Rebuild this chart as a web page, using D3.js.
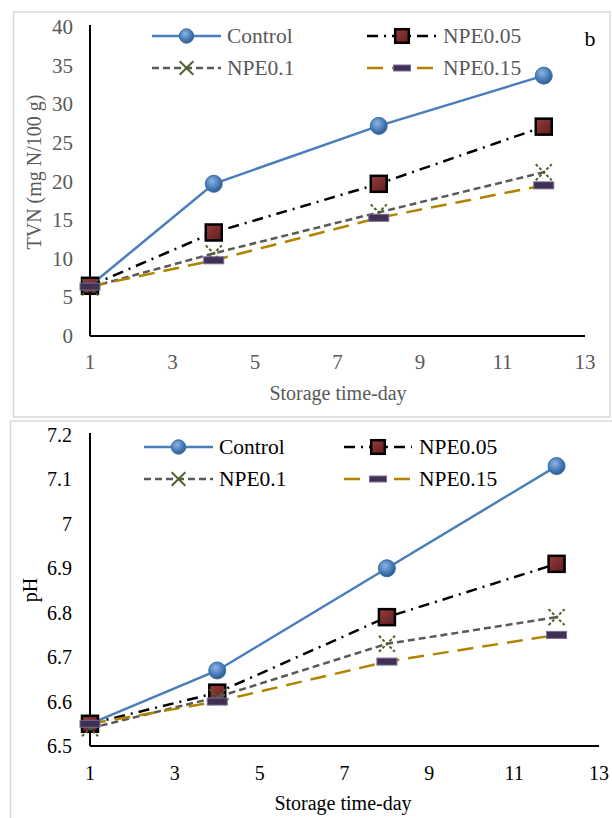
<!DOCTYPE html>
<html>
<head>
<meta charset="utf-8">
<script src="https://cdn.jsdelivr.net/npm/d3@7"></script>
<style>
  body { margin: 0; background: #fff; }
  svg { display: block; }
</style>
</head>
<body>
<script>
/* global d3 */
(function () {
  'use strict'

  // data
  var days = [1, 4, 8, 12]
  var seriesNames = ['Control', 'NPE0.05', 'NPE0.1', 'NPE0.15']

  var tvnControl = [6.5, 19.7, 27.2, 33.7]
  var tvnNPE005 = [6.5, 13.4, 19.7, 27.1]
  var tvnNPE01 = [6.3, 10.7, 16.0, 21.2]
  var tvnNPE015 = [6.4, 9.8, 15.3, 19.5]

  var phControl = [6.55, 6.67, 6.90, 7.13]
  var phNPE005 = [6.55, 6.62, 6.79, 6.91]
  var phNPE01 = [6.54, 6.61, 6.73, 6.79]
  var phNPE015 = [6.55, 6.60, 6.69, 6.75]

  var dayTicks = [1, 3, 5, 7, 9, 11, 13]
  var tvnTicks = [0, 5, 10, 15, 20, 25, 30, 35, 40]
  var phTicks = [6.5, 6.6, 6.7, 6.8, 6.9, 7.0, 7.1, 7.2]

  var W = 612
  var H = 818
  var FONT = '"Liberation Serif", "Times New Roman", serif'

  var svg = d3.select('body').append('svg')
    .attr('width', W)
    .attr('height', H)
    .attr('font-family', FONT)

  var defs = svg.append('defs')
  var gBlue = defs.append('radialGradient').attr('id', 'gBlue')
    .attr('cx', '40%').attr('cy', '35%').attr('r', '65%')
  gBlue.append('stop').attr('offset', '0%').attr('stop-color', '#8db4e2')
  gBlue.append('stop').attr('offset', '60%').attr('stop-color', '#4a7ebb')
  gBlue.append('stop').attr('offset', '100%').attr('stop-color', '#2c5a8c')
  var gRed = defs.append('linearGradient').attr('id', 'gRed')
    .attr('x1', '0%').attr('y1', '0%').attr('x2', '100%').attr('y2', '100%')
  gRed.append('stop').attr('offset', '0%').attr('stop-color', '#9a3c3c')
  gRed.append('stop').attr('offset', '100%').attr('stop-color', '#5c1e1e')

  var styles = [
    { color: '#4a7ebb', dash: null, marker: 'circle' },
    { color: '#000000', dash: '11,6,2,6', marker: 'square' },
    { color: '#595959', dash: '7,4', marker: 'cross' },
    { color: '#b08400', dash: '16,9', marker: 'bar' }
  ]

  function drawMarker (g, type, x, y, s) {
    if (type === 'circle') {
      g.append('circle').attr('cx', x).attr('cy', y).attr('r', 8.5 * s)
        .attr('fill', 'url(#gBlue)').attr('stroke', '#3a6ea5').attr('stroke-width', 1)
    } else if (type === 'square') {
      var a = 16 * s
      g.append('rect').attr('x', x - a / 2).attr('y', y - a / 2)
        .attr('width', a).attr('height', a)
        .attr('fill', 'url(#gRed)').attr('stroke', '#000').attr('stroke-width', 2.5)
    } else if (type === 'cross') {
      var c = 8 * s
      g.append('path')
        .attr('d', 'M' + (x - c) + ',' + (y - c) + 'L' + (x + c) + ',' + (y + c) +
          'M' + (x - c) + ',' + (y + c) + 'L' + (x + c) + ',' + (y - c))
        .attr('stroke', '#4f6228').attr('stroke-width', 2)
        .attr('stroke-dasharray', s < 1 ? null : '3,2').attr('fill', 'none')
    } else {
      var bw = 20 * s
      var bh = 7 * s
      g.append('rect').attr('x', x - bw / 2).attr('y', y - bh / 2)
        .attr('width', bw).attr('height', bh)
        .attr('fill', '#403152').attr('stroke', '#7a6a9a').attr('stroke-width', 1)
    }
  }

  function drawPanel (p) {
    var g = svg.append('g')

    // panel frame
    g.append('rect').attr('x', p.box[0]).attr('y', p.box[1])
      .attr('width', p.box[2]).attr('height', p.box[3])
      .attr('fill', '#fff').attr('stroke', '#d9d9d9').attr('stroke-width', 1.5)

    var x = d3.scaleLinear().domain([1, 13]).range(p.xRange)
    var y = d3.scaleLinear().domain(p.yDomain).range(p.yRange)

    // axis lines
    g.append('line').attr('x1', x(1)).attr('x2', x(1))
      .attr('y1', y(p.yDomain[1]) - 2).attr('y2', y(p.yDomain[0]))
      .attr('stroke', '#000').attr('stroke-width', 2)
    g.append('line').attr('x1', x(1)).attr('x2', x(13))
      .attr('y1', y(p.yDomain[0])).attr('y2', y(p.yDomain[0]))
      .attr('stroke', '#000').attr('stroke-width', 2)

    // tick labels
    g.selectAll('.yl').data(p.yTicks).enter().append('text')
      .attr('x', p.yLabelX).attr('y', function (d) { return y(d) })
      .attr('text-anchor', 'end').attr('dominant-baseline', 'central')
      .attr('font-size', p.tickSize).attr('fill', p.textColor)
      .text(function (d) { return d3.format('~g')(d) })
    g.selectAll('.xl').data(dayTicks).enter().append('text')
      .attr('x', function (d) { return x(d) }).attr('y', p.xLabelY)
      .attr('text-anchor', 'middle').attr('dominant-baseline', 'central')
      .attr('font-size', p.tickSize).attr('fill', p.textColor)
      .text(function (d) { return d })

    // axis titles
    g.append('text').attr('x', p.xTitle[0]).attr('y', p.xTitle[1])
      .attr('text-anchor', 'middle').attr('dominant-baseline', 'central')
      .attr('font-size', 20).attr('fill', p.textColor).text('Storage time-day')
    g.append('text')
      .attr('transform', 'translate(' + p.yTitle[0] + ',' + p.yTitle[1] + ') rotate(-90)')
      .attr('text-anchor', 'middle').attr('dominant-baseline', 'central')
      .attr('font-size', 20).attr('fill', p.textColor).text(p.yTitleText)

    // series
    var line = d3.line()
      .x(function (d) { return x(d[0]) })
      .y(function (d) { return y(d[1]) })
    p.series.forEach(function (vals, i) {
      var st = styles[i]
      var pts = days.map(function (d, j) { return [d, vals[j]] })
      var sg = g.append('g')
      sg.append('path').attr('d', line(pts))
        .attr('fill', 'none').attr('stroke', st.color).attr('stroke-width', 2.5)
        .attr('stroke-dasharray', st.dash)
      pts.forEach(function (pt) { drawMarker(sg, st.marker, x(pt[0]), y(pt[1]), 1) })
    })

    // legend
    seriesNames.forEach(function (name, i) {
      var st = styles[i]
      var col = p.legend.cols[i % 2]
      var ly = p.legend.rows[Math.floor(i / 2)]
      var lg = g.append('g')
      lg.append('line').attr('x1', col[0]).attr('x2', col[1]).attr('y1', ly).attr('y2', ly)
        .attr('stroke', st.color).attr('stroke-width', 2.5)
        .attr('stroke-dasharray', st.dash)
      drawMarker(lg, st.marker, (col[0] + col[1]) / 2, ly, 0.85)
      lg.append('text').attr('x', col[2]).attr('y', ly)
        .attr('dominant-baseline', 'central').attr('font-size', 21.5)
        .attr('fill', p.textColor).text(name)
    })

    if (p.tag) {
      g.append('text').attr('x', p.tag[0]).attr('y', p.tag[1])
        .attr('text-anchor', 'middle').attr('dominant-baseline', 'central')
        .attr('font-size', 22).attr('fill', '#000').text(p.tag[2])
    }
  }

  drawPanel({
    box: [13.5, 12, 596.5, 405],
    xRange: [90, 585],
    yDomain: [0, 40],
    yRange: [336, 27],
    yTicks: tvnTicks,
    yLabelX: 73,
    xLabelY: 362,
    tickSize: 21,
    textColor: '#595959',
    xTitle: [338, 393],
    yTitle: [34, 172],
    yTitleText: 'TVN (mg N/100 g)',
    series: [tvnControl, tvnNPE005, tvnNPE01, tvnNPE015],
    legend: { rows: [36, 68], cols: [[152, 221, 227], [367, 437, 443]] },
    tag: [590, 38, 'b']
  })

  drawPanel({
    box: [10.5, 421, 620, 420],
    xRange: [90, 599],
    yDomain: [6.5, 7.2],
    yRange: [746, 435],
    yTicks: phTicks,
    yLabelX: 72,
    xLabelY: 773,
    tickSize: 20,
    textColor: '#000',
    xTitle: [343, 803],
    yTitle: [30, 590],
    yTitleText: 'pH',
    series: [phControl, phNPE005, phNPE01, phNPE015],
    legend: { rows: [447, 479], cols: [[144, 213, 219], [344, 412, 419]] },
    tag: null
  })
}())
</script>
</body>
</html>
